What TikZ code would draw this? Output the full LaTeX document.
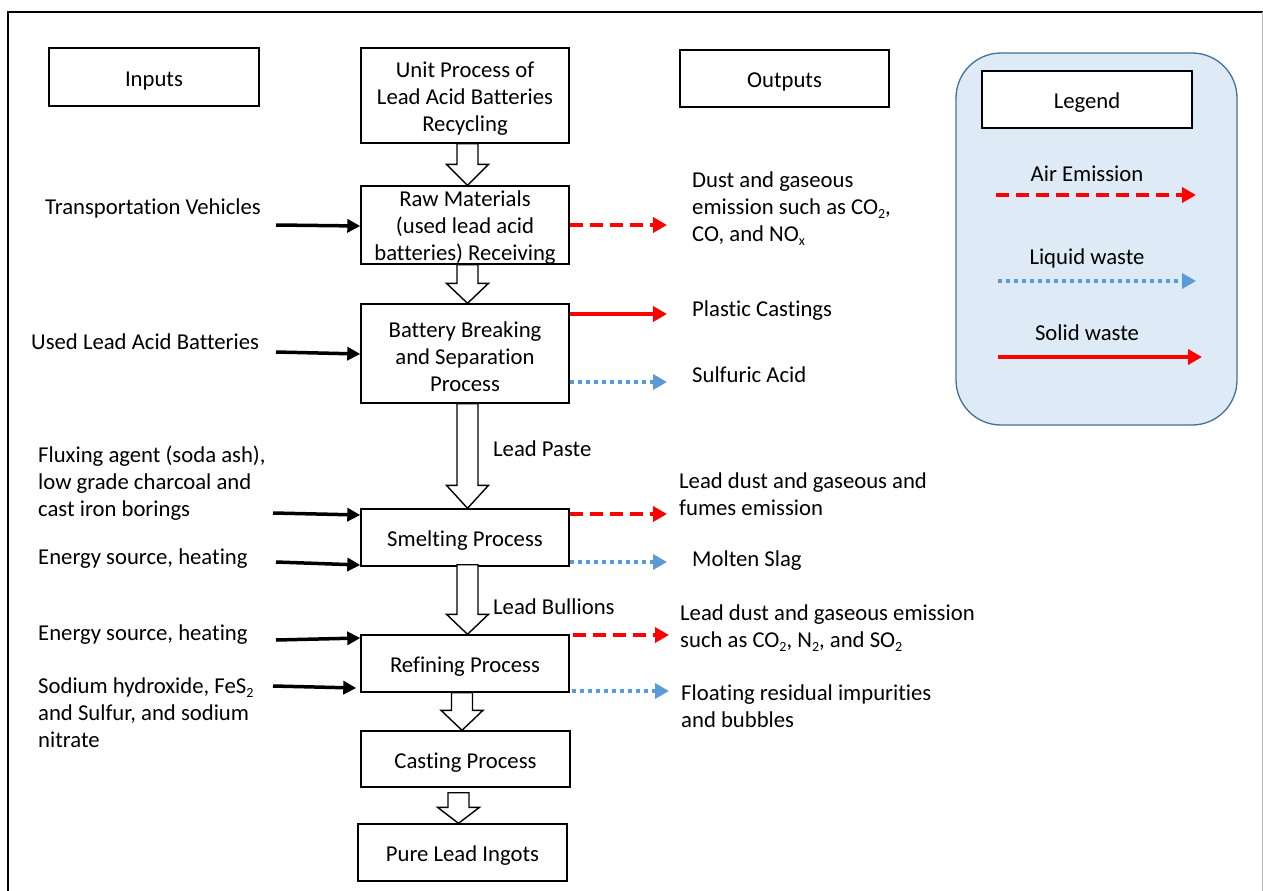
\documentclass[tikz,border=0pt]{standalone}
\usepackage{fontspec}
\setmainfont{Carlito}[Ligatures=NoCommon]
\usetikzlibrary{calc,arrows.meta}
\newcommand\fs{\fontsize{22.7pt}{27pt}\selectfont}
\newcommand\mystrut{\rule{0pt}{17pt}}
\newcommand\bstrut{\rule{0pt}{22pt}}
\newcommand\hollowarrow[5]{%
  \draw[hollowarr] ($(#1.south)+(#3-10.5,#5)$) -- ($(#1.south |- #2.north)+(#3-10.5,-#4)$) -- ($(#1.south |- #2.north)+(#3-21,-#4)$) -- ($(#1.south |- #2.north)+(#3,0)$) -- ($(#1.south |- #2.north)+(#3+21,-#4)$) -- ($(#1.south |- #2.north)+(#3+10.5,-#4)$) -- ($(#1.south)+(#3+10.5,#5)$) -- cycle;}
\newcommand\sub[1]{\raisebox{-4pt}{\fontsize{14pt}{14pt}\selectfont #1}}
\definecolor{legfill}{HTML}{DEEBF7}
\definecolor{legdraw}{HTML}{41719C}
\definecolor{liqblue}{HTML}{5B9BD5}
\tikzset{
  box/.style={draw=black, line width=1.4pt, fill=white, inner sep=0pt, align=center, font=\fs},
  txt/.style={anchor=north west, inner sep=0pt, align=left, font=\fs},
  ctxt/.style={anchor=base, inner sep=0pt, font=\fs},
  hollowarr/.style={draw=black, line width=1.4pt, fill=white, line join=miter},
  inarr/.style={draw=black, line width=3.5pt, -{Triangle[length=13pt,width=13pt]}},
  airarr/.style={draw=red, line width=4pt, dash pattern=on 13pt off 7pt, -{Triangle[length=14pt,width=15pt]}},
  liqarr/.style={draw=liqblue, line width=4pt, dash pattern=on 4pt off 4pt, -{Triangle[length=14pt,width=15pt]}},
  solarr/.style={draw=red, line width=3.5pt, -{Triangle[length=14pt,width=15pt]}},
}
\begin{document}
\begin{tikzpicture}[x=1pt,y=-1pt]
\useasboundingbox (0,0) rectangle (1263,891);
\fill[white] (0,0) rectangle (1263,891);
% outer frame
\draw[black, line width=2pt] (8,891) -- (8,12) -- (1263,12);
\draw[gray!60, line width=1pt] (1262,12) -- (1262,891);

% legend panel
\draw[legdraw, fill=legfill, line width=1.3pt, rounded corners=45pt] (956,53) rectangle (1237,425);
\node[box, minimum width=210pt, minimum height=57pt] (legend) at (1087,99.5) {\bstrut Legend};
\node[ctxt] (airlab) at (1087,181) {Air Emission};
\node[ctxt] (liqlab) at (1087,264) {Liquid waste};
\node[ctxt] (sollab) at (1087,340) {Solid waste};
\coordinate (a1) at (996,195); \coordinate (a2) at (1196,195);
\coordinate (l1) at (998,281); \coordinate (l2) at (1196,281);
\coordinate (s1) at (998,357); \coordinate (s2) at (1202,357);
\draw[airarr] (a1) -- (a2);
\draw[liqarr] (l1) -- (l2);
\draw[solarr] (s1) -- (s2);

% header boxes
\node[box, minimum width=210pt, minimum height=58pt] (inputs) at (154,77) {\bstrut Inputs};
\node[box, minimum width=208pt, minimum height=95pt] (unit) at (465,95.5) {\bstrut Unit Process of\\Lead Acid Batteries\\Recycling};
\node[box, minimum width=209pt, minimum height=57pt] (outputs) at (784.5,78.5) {\bstrut Outputs};

% process boxes
\node[box, minimum width=208pt, minimum height=78pt] (raw) at (465,225) {};
\node[align=center, inner sep=0pt, font=\fs] (rawtxt) at ([yshift=-3pt]raw.center) {Raw Materials\\(used lead acid\\batteries) Receiving};
\node[box, minimum width=208pt, minimum height=99pt] (battery) at (465,353.5) {\bstrut Battery Breaking\\and Separation\\Process};
\node[box, minimum width=208pt, minimum height=57pt] (smelt) at (465,537.5) {\bstrut Smelting Process};
\node[box, minimum width=208pt, minimum height=57pt] (refine) at (465,663.5) {\bstrut Refining Process};
\node[box, minimum width=209pt, minimum height=56pt] (cast) at (465.5,759) {\bstrut Casting Process};
\node[box, minimum width=209pt, minimum height=57pt] (pure) at (462.5,852.5) {\bstrut Pure Lead Ingots};

% hollow flow arrows
\hollowarrow{unit}{raw}{2.5}{21}{0}
\hollowarrow{raw}{battery}{2.5}{20}{0}
\hollowarrow{battery}{smelt}{2.5}{23}{0}
\hollowarrow{smelt}{refine}{2.5}{20}{-2}
\hollowarrow{refine}{cast}{-3}{20}{0}
\hollowarrow{cast}{pure}{-7}{16}{5}

\node[txt] (paste) at (493,439) {\mystrut Lead Paste};
\node[txt] (bullions) at (493,597) {\mystrut Lead Bullions};

% inputs
\node[txt] (tv) at (45,197) {\mystrut Transportation Vehicles};
\node[txt] (ulab) at (31,332) {\mystrut Used Lead Acid Batteries};
\node[txt] (flux) at (38,445) {\mystrut Fluxing agent (soda ash),\\low grade charcoal and\\cast iron borings};
\node[txt] (energyA) at (38,547) {\mystrut Energy source, heating};
\node[txt] (energyB) at (38,623) {\mystrut Energy source, heating};
\node[txt] (sodium) at (38,676) {\mystrut Sodium hydroxide, FeS\sub{2}\\and Sulfur, and sodium\\nitrate};

\coordinate (i1) at (276,225);
\coordinate (i2) at (276,352);
\coordinate (i3) at (273,513);
\coordinate (i4) at (276,562);
\coordinate (i5) at (276,640);
\coordinate (i6) at (273,686);
\draw[inarr] (i1) -- ($(raw.west)+(0,1)$);
\draw[inarr] (i2) -- ($(battery.west)+(0,0.5)$);
\draw[inarr] (i3) -- ($(smelt.west)+(0,-22.5)$);
\draw[inarr] (i4) -- ($(smelt.west)+(0,27.5)$);
\draw[inarr] (i5) -- ($(refine.west)+(0,-25.5)$);
\draw[inarr] (i6) -- ($(refine.west)+(-4,24.5)$);

% outputs
\node[txt] (dust) at (692,170) {\mystrut Dust and gaseous\\emission such as CO\sub{2},\\CO, and NO\sub{x}};
\node[txt] (plastic) at (692,299) {\mystrut Plastic Castings};
\node[txt] (sulf) at (692,365) {\mystrut Sulfuric Acid};
\node[txt] (fumes) at (679,471) {\mystrut Lead dust and gaseous and\\fumes emission};
\node[txt] (slag) at (692,549) {\mystrut Molten Slag};
\node[txt] (refem) at (680,603) {\mystrut Lead dust and gaseous emission\\such as CO\sub{2}, N\sub{2}, and SO\sub{2}};
\node[txt] (float) at (681,683) {\mystrut Floating residual impurities\\and bubbles};

\coordinate (o1) at (667,225);
\coordinate (o2) at (667,314);
\coordinate (o3) at (667,382);
\coordinate (o4) at (667,514);
\coordinate (o5) at (667,562);
\coordinate (o6) at (669,635);
\coordinate (o7) at (669,691);
\draw[airarr] (raw.east) -- (o1);
\draw[solarr] ($(battery.east)+(0,-39.5)$) -- (o2);
\draw[liqarr] ($(battery.east)+(0,28.5)$) -- (o3);
\draw[airarr] ($(smelt.east)+(0,-23.5)$) -- (o4);
\draw[liqarr] ($(smelt.east)+(0,24.5)$) -- (o5);
\draw[airarr] ($(refine.east)+(3,-28.5)$) -- (o6);
\draw[liqarr] ($(refine.east)+(2,27.5)$) -- (o7);
\end{tikzpicture}
\end{document}
